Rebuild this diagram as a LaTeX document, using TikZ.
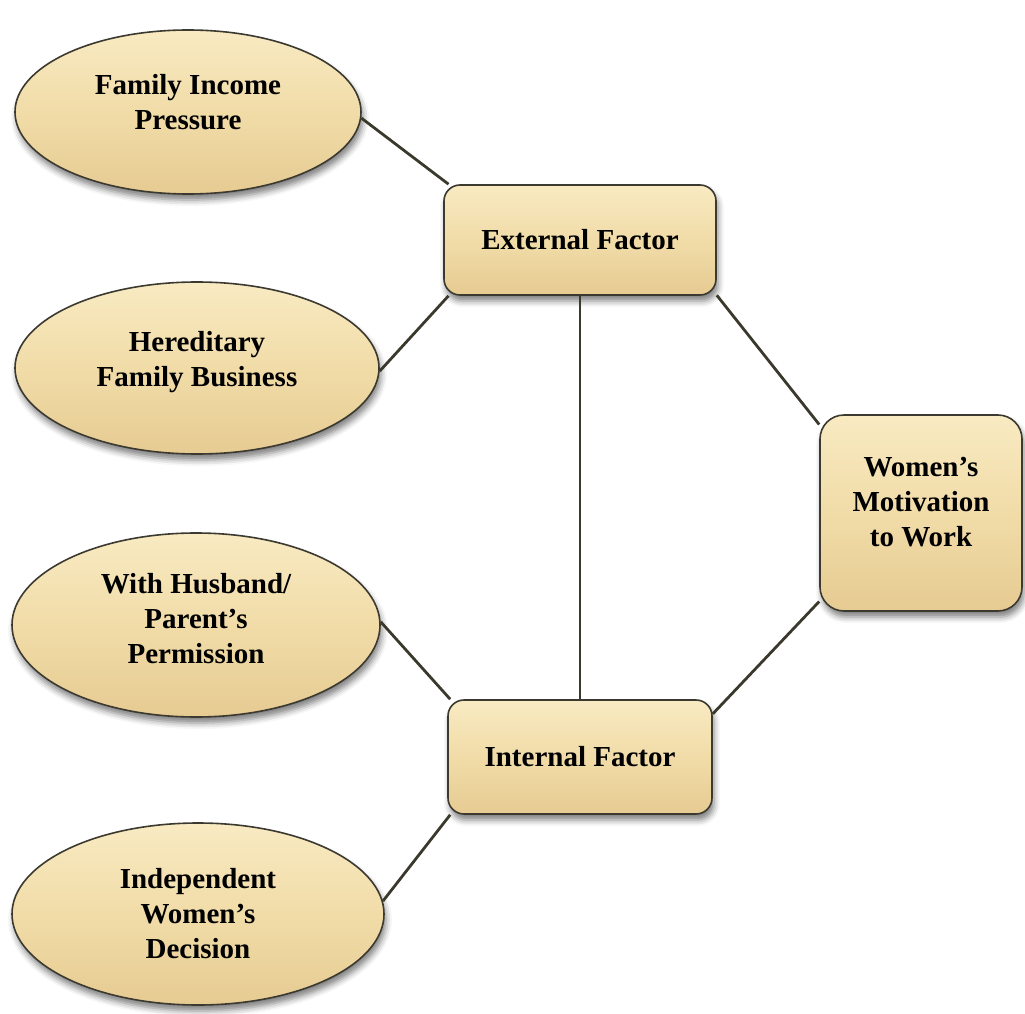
\documentclass[tikz,border=0pt]{standalone}
\usepackage{fontspec}
\setmainfont{Liberation Serif}
\usetikzlibrary{shapes.geometric,shadows.blur}
\definecolor{parchTop}{HTML}{F8EAC2}
\definecolor{parchMid}{HTML}{F1DCA8}
\definecolor{parchBot}{HTML}{E6CB92}
\definecolor{rimcol}{HTML}{3C3A30}
\definecolor{linkcol}{HTML}{3A392C}
\tikzset{
  parch/.style={draw=rimcol, line width=1.6pt,
    top color=parchTop, bottom color=parchBot, middle color=parchMid,
    blur shadow={shadow xshift=2pt, shadow yshift=-6pt, shadow blur radius=6pt, shadow opacity=50}},
  oval/.style={parch, ellipse, inner sep=0pt},
  factor/.style={parch, rectangle, rounded corners=16pt, inner sep=0pt},
  lbl/.style={align=center, font=\fontsize{29}{35}\selectfont\bfseries},
  link/.style={draw=linkcol, line width=2.8pt}
}
\begin{document}
\begin{tikzpicture}[x=1pt, y=-1pt]
\useasboundingbox (0,0) rectangle (1025,1014);

% left-hand ovals
\node[oval, minimum width=346pt, minimum height=164pt] (fip) at (188,112) {};
\node[oval, minimum width=364pt, minimum height=172pt] (hfb) at (197,368) {};
\node[oval, minimum width=368pt, minimum height=184pt] (whp) at (196,625) {};
\node[oval, minimum width=372pt, minimum height=182pt] (iwd) at (198,914) {};

% factor boxes
\node[factor, minimum width=272pt, minimum height=110pt] (ext) at (580,240) {};
\node[factor, minimum width=264pt, minimum height=114pt] (int) at (580,757) {};
\node[factor, rounded corners=24pt, minimum width=202pt, minimum height=196pt] (wmw) at (921,513) {};

% connectors
\draw[link] (fip.-2) -- (ext.157);
\draw[link] (hfb.-1) -- (ext.203);
\draw[link] (ext.south) -- (int.north);
\draw[link] (ext.-22) -- (wmw.139);
\draw[link] (wmw.221) -- (int.18);
\draw[link] (whp.1) -- (int.156);
\draw[link] (iwd.4) -- (int.204);

% labels
\node[lbl] (fipt) at ([yshift=10pt]fip.center) {Family Income\\Pressure};
\node[lbl] (hfbt) at ([yshift=6pt]hfb.center) {Hereditary\\Family Business};
\node[lbl] (whpt) at ([yshift=6pt]whp.center) {With Husband/\\Parent’s\\Permission};
\node[lbl] (iwdt) at (iwd.center) {Independent\\Women’s\\Decision};
\node[lbl] (extt) at (ext.center) {External Factor};
\node[lbl] (intt) at (int.center) {Internal Factor};
\node[lbl] (wmwt) at ([yshift=11pt]wmw.center) {Women’s\\Motivation\\to Work};
\end{tikzpicture}
\end{document}
